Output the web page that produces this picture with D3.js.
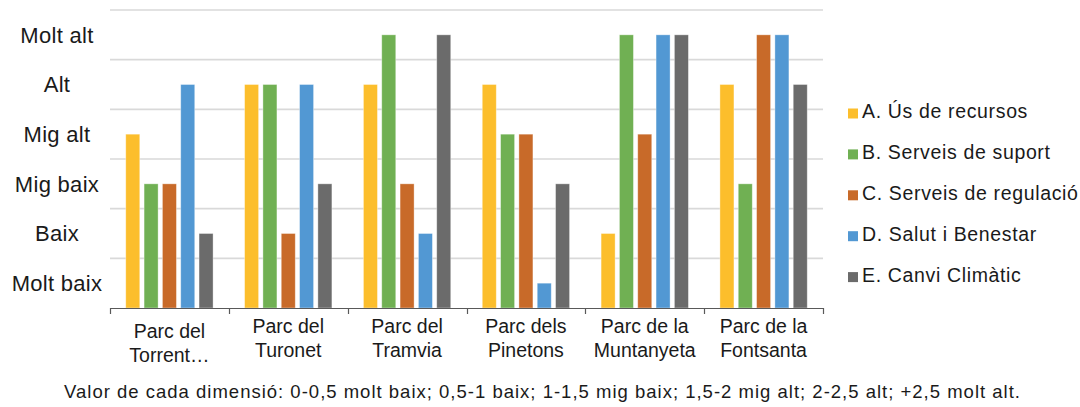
<!DOCTYPE html>
<html><head><meta charset="utf-8">
<script src="https://cdn.jsdelivr.net/npm/d3@7"></script>
<style>body{margin:0;background:#fff}svg{display:block}text{font-family:"Liberation Sans",Arial,sans-serif;fill:#1a1a1a}</style>
</head><body><svg id="c" width="1080" height="407"></svg>
<script>
const categories = [["Parc del","Torrent…"],["Parc del","Turonet"],["Parc del","Tramvia"],["Parc dels","Pinetons"],["Parc de la","Muntanyeta"],["Parc de la","Fontsanta"]];
const seriesNames = ["A. Ús de recursos","B. Serveis de suport","C. Serveis de regulació","D. Salut i Benestar","E. Canvi Climàtic"];
const seriesColors = ["#FCBE2C","#70B053","#C86A29","#5298D3","#6B6B6B"];
// values: 0.25 molt baix, 0.75 baix, 1.25 mig baix, 1.75 mig alt, 2.25 alt, 2.75 molt alt
const valA = [1.75, 2.25, 2.25, 2.25, 0.75, 2.25];
const valB = [1.25, 2.25, 2.75, 1.75, 2.75, 1.25];
const valC = [1.25, 0.75, 1.25, 1.75, 1.75, 2.75];
const valD = [2.25, 2.25, 0.75, 0.25, 2.75, 2.75];
const valE = [0.75, 1.25, 2.75, 1.25, 2.75, 2.25];
const tickValues = [0.25, 0.75, 1.25, 1.75, 2.25, 2.75];
const tickLabels = ["Molt baix","Baix","Mig baix","Mig alt","Alt","Molt alt"];
const gridValues = [0, 0.5, 1, 1.5, 2, 2.5, 3];
const footnote = "Valor de cada dimensió: 0-0,5 molt baix; 0,5-1 baix; 1-1,5 mig baix; 1,5-2 mig alt; 2-2,5 alt; +2,5 molt alt.";

const series = [valA, valB, valC, valD, valE];
const svg = d3.select("#c");
const L = 110, R = 823, T = 10, B = 308;
const catIdx = d3.range(categories.length);
const x0 = d3.scaleBand().domain(catIdx).range([L, R]).padding(0);
const x1 = d3.scaleBand().domain(d3.range(series.length)).range([0, x0.bandwidth()]).paddingInner(0.235).paddingOuter(0.86);
const y = d3.scaleLinear().domain([0, 3]).range([B, T]);

// gridlines
svg.append("g").selectAll("line").data(gridValues.filter(v => v > 0)).join("line")
  .attr("x1", L).attr("x2", R).attr("y1", d => y(d)).attr("y2", d => y(d))
  .attr("stroke", "#d9d9d9").attr("stroke-width", 1.6);

// bars
const g = svg.append("g");
catIdx.forEach(ci => {
  series.forEach((s, si) => {
    g.append("rect")
      .attr("x", x0(ci) + x1(si)).attr("width", x1.bandwidth())
      .attr("y", y(s[ci])).attr("height", y(0) - y(s[ci]))
      .attr("fill", seriesColors[si])
      .attr("stroke", "#ffffff").attr("stroke-opacity", 0.45).attr("stroke-width", 0.8);
  });
});

// x axis baseline and ticks
svg.append("line").attr("x1", L).attr("x2", R).attr("y1", B + 0.5).attr("y2", B + 0.5).attr("stroke", "#595959").attr("stroke-width", 1.2);
const bounds = catIdx.map(i => x0(i)).concat([R]);
svg.append("g").selectAll("line").data(bounds).join("line")
  .attr("x1", d => Math.round(d) + 0.5).attr("x2", d => Math.round(d) + 0.5)
  .attr("y1", B).attr("y2", B + 6).attr("stroke", "#595959").attr("stroke-width", 1.2);

// x labels
const xl = svg.append("g");
catIdx.forEach(ci => {
  const cx = x0(ci) + x0.bandwidth() / 2;
  const off = ci === 0 ? 5 : 0;
  categories[ci].forEach((line, li) => {
    xl.append("text").attr("x", cx).attr("y", 333 + off + li * 24)
      .attr("text-anchor", "middle").attr("font-size", 19.5).text(line);
  });
});

// y labels
svg.append("g").selectAll("text").data(tickValues).join("text")
  .attr("x", 57).attr("y", d => y(d)).attr("dy", "0.36em")
  .attr("text-anchor", "middle").attr("font-size", 22).attr("letter-spacing", 0.3)
  .text((d, i) => tickLabels[i]);

// legend
const lg = svg.append("g");
seriesNames.forEach((n, i) => {
  const by = 118 + i * 40.9;
  lg.append("rect").attr("x", 848).attr("y", by - 9.5).attr("width", 10).attr("height", 10).attr("fill", seriesColors[i]);
  lg.append("text").attr("x", 862).attr("y", by).attr("font-size", 19.5).attr("letter-spacing", 0.65).text(n);
});

// footnote
svg.append("text").attr("x", 64).attr("y", 398).attr("font-size", 18.5)
  .attr("textLength", 956).attr("lengthAdjust", "spacing").text(footnote);
</script></body></html>
